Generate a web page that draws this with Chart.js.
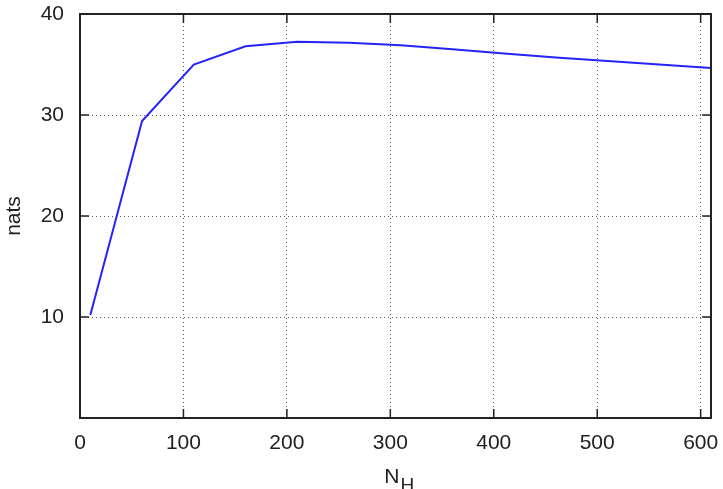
<!DOCTYPE html>
<html>
<head>
<meta charset="utf-8">
<script src="https://cdn.jsdelivr.net/npm/chart.js@4"></script>
<style>
  html, body { margin: 0; padding: 0; background: #fff; }
  #wrap { width: 723px; height: 489px; }
</style>
</head>
<body>
<div id="wrap"><canvas id="grafico" width="723" height="489"></canvas></div>
<script>
// valores
const nh_values = [10, 60, 110, 160, 210, 260, 310, 360, 410, 460, 510, 560, 610];
const nats_values = [10.2, 29.4, 35.0, 36.8, 37.25, 37.15, 36.9, 36.5, 36.1, 35.7, 35.35, 35.0, 34.65];
const x_ticks = [0, 100, 200, 300, 400, 500, 600];
const y_ticks = [10, 20, 30, 40];

const fuente = 'Liberation Sans, Arial, sans-serif';

// marco y marcas hacia dentro, estilo gnuplot
const marcoPlugin = {
    id: 'marco',
    afterDraw(chart) {
        const ctx = chart.ctx;
        const a = chart.chartArea;
        const xs = chart.scales.x, ys = chart.scales.y;
        ctx.save();
        ctx.strokeStyle = '#222';
        ctx.lineWidth = 2;
        ctx.setLineDash([]);
        ctx.strokeRect(a.left, a.top, a.right - a.left, a.bottom - a.top);
        ctx.lineWidth = 1.5;
        x_ticks.forEach(v => {
            const px = xs.getPixelForValue(v);
            ctx.beginPath();
            ctx.moveTo(px, a.bottom); ctx.lineTo(px, a.bottom - 9);
            ctx.moveTo(px, a.top); ctx.lineTo(px, a.top + 9);
            ctx.stroke();
        });
        y_ticks.forEach(v => {
            const py = ys.getPixelForValue(v);
            ctx.beginPath();
            ctx.moveTo(a.left, py); ctx.lineTo(a.left + 9, py);
            ctx.moveTo(a.right, py); ctx.lineTo(a.right - 9, py);
            ctx.stroke();
        });
        // titulo eje x con subindice
        ctx.fillStyle = '#222';
        ctx.textBaseline = 'alphabetic';
        ctx.textAlign = 'left';
        ctx.font = '21px ' + fuente;
        const cx = (a.left + a.right) / 2;
        const wN = ctx.measureText('N').width;
        ctx.fillText('N', cx - wN + 4, 483);
        ctx.font = '19px ' + fuente;
        ctx.fillText('H', cx + 5, 491);
        ctx.restore();
    }
};

const ctx_grafico = document.getElementById('grafico').getContext('2d');
const grafico = new Chart(ctx_grafico, {
    type: 'line',
    data: {
        datasets: [{
            data: nh_values.map((x, i) => ({ x: x, y: nats_values[i] })),
            borderColor: '#2424f8',
            borderWidth: 2,
            pointRadius: 0,
            tension: 0,
            fill: false
        }]
    },
    options: {
        responsive: false,
        animation: false,
        layout: { padding: { top: 14, right: 12, left: 0, bottom: 0 } },
        plugins: { legend: { display: false }, tooltip: { enabled: false } },
        scales: {
            x: {
                type: 'linear',
                min: 0,
                max: 610,
                afterBuildTicks: scale => { scale.ticks = x_ticks.map(v => ({ value: v })); },
                afterFit: scale => { scale.height = 71; scale.paddingLeft = 0; scale.paddingRight = 0; },
                grid: { color: '#666', lineWidth: 1, drawTicks: false },
                border: { display: false, dash: [1, 3] },
                ticks: { color: '#222', padding: 13, font: { family: fuente, size: 21 }, maxRotation: 0 }
            },
            y: {
                min: 0,
                max: 40,
                afterBuildTicks: scale => { scale.ticks = [0].concat(y_ticks).map(v => ({ value: v })); },
                afterFit: scale => { scale.width = 80; scale.paddingTop = 0; scale.paddingBottom = 0; },
                grid: { color: '#666', lineWidth: 1, drawTicks: false },
                border: { display: false, dash: [1, 3] },
                ticks: {
                    color: '#222', padding: 16, font: { family: fuente, size: 21 },
                    callback: v => (v === 0 ? '' : v)
                },
                title: { display: true, text: 'nats', color: '#222', font: { family: fuente, size: 21 }, padding: { top: 2, bottom: 0 } }
            }
        }
    },
    plugins: [marcoPlugin]
});
</script>
</body>
</html>
